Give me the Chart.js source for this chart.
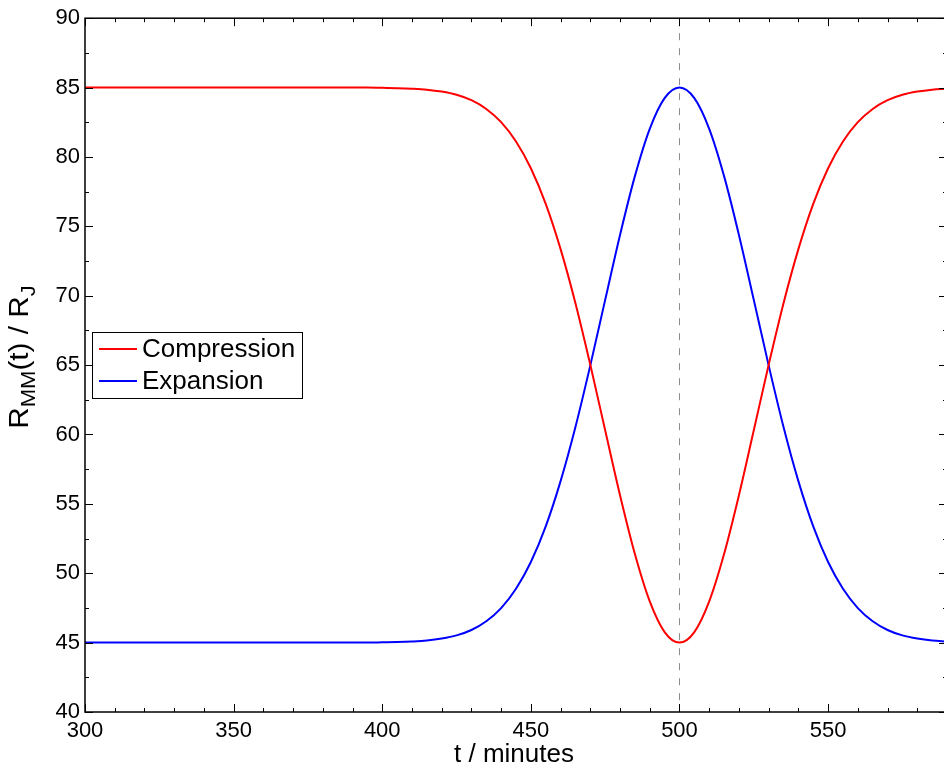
<!DOCTYPE html>
<html>
<head>
<meta charset="utf-8">
<script src="https://cdn.jsdelivr.net/npm/chart.js@4/dist/chart.umd.min.js"></script>
<style>
html,body{margin:0;padding:0;background:#fff;overflow:hidden;width:944px;height:769px;}
#wrap{width:950px;height:769px;}
</style>
</head>
<body>
<div id="wrap"><canvas id="c" width="950" height="769"></canvas></div>
<script>
// ---- data ----
const timeMinutes = [300,305,310,315,320,325,330,335,340,345,350,355,360,365,370,375,380,385,390,395,
  400,405,410,415,420,425,430,435,440,445,450,455,460,465,470,475,480,485,490,495,
  500,505,510,515,520,525,530,535,540,545,550,555,560,565,570,575,580,585,590];
const compression = [85,85,85,85,85,85,85,85,85,85,85,85,85,85,85,85,85,85,85,85,
  84.98,84.96,84.92,84.85,84.71,84.48,84.09,83.46,82.51,81.12,79.19,76.62,73.36,69.46,65.02,60.30,55.62,51.38,47.97,45.76,
  45.00,45.76,47.97,51.38,55.62,60.30,65.02,69.46,73.36,76.62,79.19,81.12,82.51,83.46,84.09,84.48,84.71,84.85,84.92];
const expansion = [45,45,45,45,45,45,45,45,45,45,45,45,45,45,45,45,45,45,45,45,
  45.02,45.04,45.08,45.15,45.29,45.52,45.91,46.54,47.49,48.88,50.81,53.38,56.64,60.54,64.98,69.70,74.38,78.62,82.03,84.24,
  85.00,84.24,82.03,78.62,74.38,69.70,64.98,60.54,56.64,53.38,50.81,48.88,47.49,46.54,45.91,45.52,45.29,45.15,45.08];
const seriesNames = ['Compression','Expansion'];
const seriesColors = ['#ff0000','#0000ff'];
const peakTime = [500];
const xRange = [300,590];
const yRange = [40,90];
const xTickStep = 50, xMinorStep = 10;
const yTickStep = 5, yMinorStep = 2.5;
const xTitle = 't / minutes';
const yTitleParts = [['R',0],['MM',1],['(t) / R',0],['J',1]];

const FONT = '"Liberation Sans", Arial, Helvetica, sans-serif';

const toPts = (ys) => timeMinutes.map((t,i)=>({x:t,y:ys[i]}));

const decorPlugin = {
  id:'decor',
  beforeDatasetsDraw(chart){
    const ctx = chart.ctx, a = chart.chartArea, xs = chart.scales.x;
    ctx.save();
    ctx.strokeStyle = '#8c8c8c';
    ctx.lineWidth = 1;
    ctx.setLineDash([7,8]);
    peakTime.forEach(t=>{
      const px = Math.round(xs.getPixelForValue(t))+0.5;
      ctx.beginPath(); ctx.moveTo(px,a.top); ctx.lineTo(px,a.bottom); ctx.stroke();
    });
    ctx.restore();
  },
  afterDatasetsDraw(chart){
    const ctx = chart.ctx, a = chart.chartArea, xs = chart.scales.x, ys = chart.scales.y;
    ctx.save();
    ctx.strokeStyle = '#000';
    ctx.lineWidth = 1.5;
    ctx.strokeRect(a.left, a.top, a.right-a.left, a.bottom-a.top);
    ctx.lineWidth = 1;
    for (let v = xRange[0]; v <= xRange[1]+1e-9; v += xMinorStep){
      const major = Math.abs(((v - xRange[0]) % xTickStep)) < 1e-9;
      const len = major ? 8 : 4;
      const px = Math.round(xs.getPixelForValue(v))+0.5;
      ctx.beginPath();
      ctx.moveTo(px,a.bottom); ctx.lineTo(px,a.bottom-len);
      ctx.moveTo(px,a.top); ctx.lineTo(px,a.top+len);
      ctx.stroke();
    }
    for (let v = yRange[0]; v <= yRange[1]+1e-9; v += yMinorStep){
      const major = Math.abs(((v - yRange[0]) % yTickStep)) < 1e-9;
      const len = major ? 8 : 4;
      const py = Math.round(ys.getPixelForValue(v))+0.5;
      ctx.beginPath();
      ctx.moveTo(a.left,py); ctx.lineTo(a.left+len,py);
      ctx.moveTo(a.right,py); ctx.lineTo(a.right-len,py);
      ctx.stroke();
    }
    // legend
    const lx = 92, ly = 332, lw = 210, lh = 66;
    ctx.fillStyle = '#fff';
    ctx.fillRect(lx,ly,lw,lh);
    ctx.lineWidth = 1;
    ctx.strokeRect(lx+0.5,ly+0.5,lw,lh);
    ctx.font = '26px ' + FONT;
    ctx.textBaseline = 'middle';
    ctx.textAlign = 'left';
    chart.data.datasets.forEach((ds,i)=>{
      const cy = ly + 17 + i*32;
      ctx.strokeStyle = ds.borderColor;
      ctx.lineWidth = 2;
      ctx.beginPath(); ctx.moveTo(lx+7,cy); ctx.lineTo(lx+45,cy); ctx.stroke();
      ctx.fillStyle = '#000';
      ctx.fillText(ds.label, lx+50, cy+1);
    });
    // axis titles
    ctx.fillStyle = '#000';
    ctx.textBaseline = 'alphabetic';
    ctx.textAlign = 'center';
    ctx.font = '26px ' + FONT;
    ctx.fillText(xTitle, (a.left+a.right)/2 - 2, 762);
    // y title with subscripts
    ctx.save();
    ctx.translate(28, 357);
    ctx.rotate(-Math.PI/2);
    ctx.scale(1.1, 1);
    ctx.textAlign = 'left';
    const big = '27px ' + FONT, small = '20px ' + FONT;
    let total = 0;
    yTitleParts.forEach(([s,sub])=>{ ctx.font = sub?small:big; total += ctx.measureText(s).width; });
    let x = -total/2;
    yTitleParts.forEach(([s,sub])=>{
      ctx.font = sub?small:big;
      ctx.fillText(s, x, sub ? 7 : 0);
      x += ctx.measureText(s).width;
    });
    ctx.restore();
    ctx.restore();
  }
};

new Chart(document.getElementById('c'), {
  type:'line',
  data:{
    datasets:[
      {label:seriesNames[0], data:toPts(compression), borderColor:seriesColors[0], borderWidth:2, pointRadius:0, cubicInterpolationMode:'monotone', fill:false},
      {label:seriesNames[1], data:toPts(expansion), borderColor:seriesColors[1], borderWidth:2, pointRadius:0, cubicInterpolationMode:'monotone', fill:false}
    ]
  },
  options:{
    responsive:false,
    devicePixelRatio:1,
    animation:false,
    layout:{padding:{top:16,right:3,left:0,bottom:0}},
    plugins:{legend:{display:false}, tooltip:{enabled:false}},
    scales:{
      x:{type:'linear', min:xRange[0], max:xRange[1], position:'bottom',
        grid:{display:false, drawTicks:false}, border:{display:false},
        ticks:{stepSize:xTickStep, includeBounds:false, autoSkip:false, maxRotation:0, padding:6, color:'#000', font:{family:FONT, size:22}},
        afterFit(s){ s.height = 57; }
      },
      y:{type:'linear', min:yRange[0], max:yRange[1], position:'left',
        grid:{display:false, drawTicks:false}, border:{display:false},
        ticks:{stepSize:yTickStep, padding:5, color:'#000', font:{family:FONT, size:22}},
        afterFit(s){ s.width = 85; }
      }
    }
  },
  plugins:[decorPlugin]
});
</script>
</body>
</html>
